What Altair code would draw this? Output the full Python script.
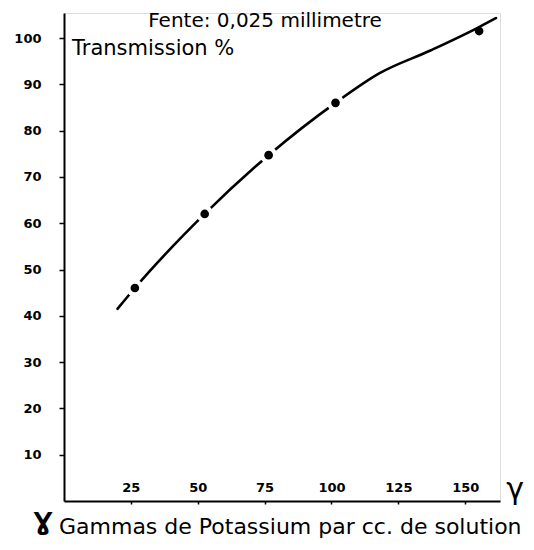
import altair as alt
import pandas as pd

curve_x = [20, 26.5, 52.6, 76.5, 101.5, 118, 137, 155, 161.5]
curve_y = [41.5, 46, 62, 74.7, 86, 92.4, 97.3, 102.3, 104.3]

dot_x = [26.5, 52.6, 76.5, 101.5, 155.2]
dot_y = [46.0, 62.0, 74.7, 86.0, 101.5]
dot_gap = [True, True, True, True, False]

x_ticks = [25, 50, 75, 100, 125, 150]
y_ticks = [10, 20, 30, 40, 50, 60, 70, 80, 90, 100]

title_text = "Fente: 0,025  millimetre"
y_label = "Transmission %"
x_label = "Gammas de Potassium par cc. de solution"
gamma_sym = "Ɣ"
gamma = "γ"

curve_df = pd.DataFrame({"x": curve_x, "y": curve_y})
dot_df = pd.DataFrame({"x": dot_x, "y": dot_y})
gap_df = pd.DataFrame({"x": [x for x, g in zip(dot_x, dot_gap) if g],
                       "y": [y for y, g in zip(dot_y, dot_gap) if g]})

W, H = 436, 488
xs = alt.Scale(domain=[0, 163], nice=False, zero=True)
ys = alt.Scale(domain=[0, 105.4], nice=False, zero=True)

x_axis = alt.Axis(values=x_ticks, title=None, grid=False, domainColor="black",
                  domainWidth=2, tickColor="black", tickWidth=1.5, tickSize=3,
                  labelFont="DejaVu Sans", labelFontWeight="bold", labelFontSize=13,
                  labelColor="black", labelPadding=-17, labelBaseline="middle")
y_axis = alt.Axis(values=y_ticks, title=None, grid=False, domainColor="black",
                  domainWidth=2, tickColor="black", tickWidth=1.5, tickSize=5,
                  labelFont="DejaVu Sans", labelFontWeight="bold", labelFontSize=13,
                  labelColor="black", labelPadding=18)

line = alt.Chart(curve_df).mark_line(interpolate="monotone", color="black",
                                     strokeWidth=2.6, strokeCap="round").encode(
    x=alt.X("x:Q", scale=xs, axis=x_axis),
    y=alt.Y("y:Q", scale=ys, axis=y_axis),
)

gaps = alt.Chart(gap_df).mark_circle(color="white", opacity=1, size=300).encode(
    x=alt.X("x:Q", scale=xs), y=alt.Y("y:Q", scale=ys))

dots = alt.Chart(dot_df).mark_circle(color="black", opacity=1, size=75).encode(
    x=alt.X("x:Q", scale=xs), y=alt.Y("y:Q", scale=ys))

def label(text, x, y, size, align="left", weight="normal", baseline="alphabetic"):
    return alt.Chart(pd.DataFrame({"t": [text]})).mark_text(
        font="DejaVu Sans", fontSize=size, fontWeight=weight, color="black",
        align=align, baseline=baseline).encode(
        x=alt.value(x), y=alt.value(y), text="t:N")

title = label(title_text, 201, 14, 20, align="center")
ylab = label(y_label, 8, 42, 21)
xlab = label(x_label, -5, 521, 22)
g1 = label(gamma_sym, -21, 517, 24, align="center", weight="bold")
g2 = label(gamma, 451, 486, 30, align="center")

chart = alt.layer(line, gaps, dots, title, ylab, xlab, g1, g2).properties(
    width=W, height=H,
    autosize=alt.AutoSizeParams(type="none"),
    padding={"left": 56, "top": 5, "right": 26, "bottom": 41},
).configure_view(stroke=None).configure(background="white")

chart.save("out.html", embed_options={"renderer": "svg", "actions": False})
